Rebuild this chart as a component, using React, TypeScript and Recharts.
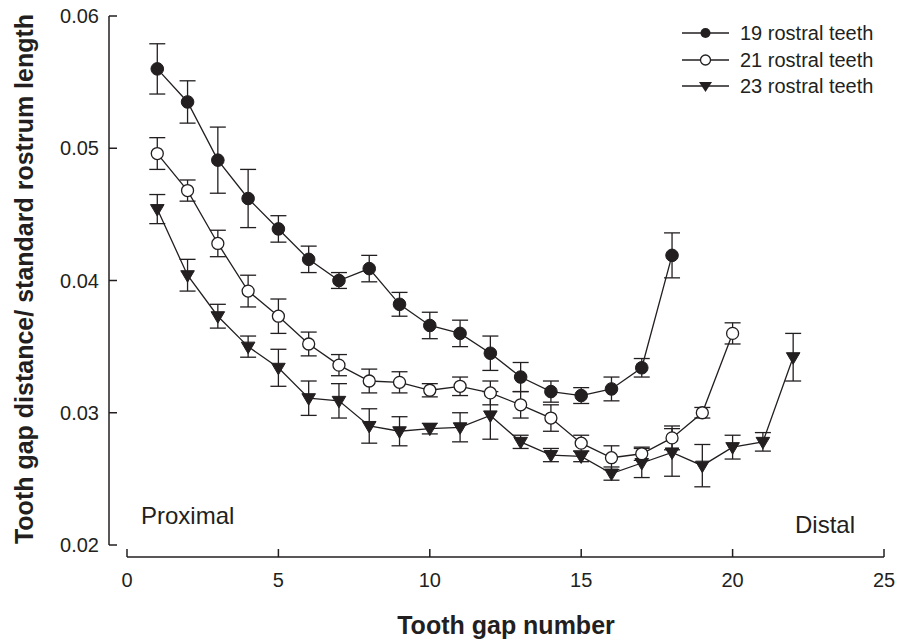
import React from 'react';
import { LineChart, Line, XAxis, YAxis, ErrorBar, Customized } from 'recharts';

const INK = '#231f20';
const FONT = '"Liberation Sans", Arial, Helvetica, sans-serif';

// ---- data ----
const xTicks = [0, 5, 10, 15, 20, 25];
const yTicks = [0.02, 0.03, 0.04, 0.05, 0.06];
const seriesNames = ['19 rostral teeth', '21 rostral teeth', '23 rostral teeth'];

const gaps19 = [1, 2, 3, 4, 5, 6, 7, 8, 9, 10, 11, 12, 13, 14, 15, 16, 17, 18];
const mean19 = [0.0560, 0.0535, 0.0491, 0.0462, 0.0439, 0.0416, 0.0400, 0.0409, 0.0382, 0.0366, 0.0360, 0.0345, 0.0327, 0.0316, 0.0313, 0.0318, 0.0334, 0.0419];
const err19 = [0.0019, 0.0016, 0.0025, 0.0022, 0.0010, 0.0010, 0.0006, 0.0010, 0.0009, 0.0010, 0.0010, 0.0013, 0.0011, 0.0008, 0.0006, 0.0009, 0.0007, 0.0017];

const gaps21 = [1, 2, 3, 4, 5, 6, 7, 8, 9, 10, 11, 12, 13, 14, 15, 16, 17, 18, 19, 20];
const mean21 = [0.0496, 0.0468, 0.0428, 0.0392, 0.0373, 0.0352, 0.0336, 0.0324, 0.0323, 0.0317, 0.0320, 0.0315, 0.0306, 0.0296, 0.0277, 0.0266, 0.0269, 0.0281, 0.0300, 0.0360];
const err21 = [0.0012, 0.0008, 0.0010, 0.0012, 0.0013, 0.0009, 0.0008, 0.0009, 0.0008, 0.0005, 0.0007, 0.0009, 0.0010, 0.0010, 0.0006, 0.0009, 0.0005, 0.0009, 0.0004, 0.0008];

const gaps23 = [1, 2, 3, 4, 5, 6, 7, 8, 9, 10, 11, 12, 13, 14, 15, 16, 17, 18, 19, 20, 21, 22];
const mean23 = [0.0454, 0.0404, 0.0373, 0.0350, 0.0334, 0.0311, 0.0309, 0.0290, 0.0286, 0.0288, 0.0289, 0.0298, 0.0278, 0.0268, 0.0267, 0.0254, 0.0262, 0.0270, 0.0260, 0.0274, 0.0278, 0.0342];
const err23 = [0.0011, 0.0012, 0.0009, 0.0008, 0.0014, 0.0013, 0.0013, 0.0013, 0.0011, 0.0004, 0.0011, 0.0018, 0.0005, 0.0005, 0.0004, 0.0005, 0.0011, 0.0018, 0.0016, 0.0009, 0.0007, 0.0018];

const toRows = (gaps: number[], means: number[], errs: number[]) =>
  gaps.map((g, i) => ({ gap: g, value: means[i], err: errs[i] }));

const rows19 = toRows(gaps19, mean19, err19);
const rows21 = toRows(gaps21, mean21, err21);
const rows23 = toRows(gaps23, mean23, err23);

// ---- markers ----
const FilledDot = (p: any) =>
  p.cx == null ? null : <circle key={`f${p.index}`} cx={p.cx} cy={p.cy} r={6.3} fill={INK} stroke={INK} strokeWidth={1} />;
const OpenDot = (p: any) =>
  p.cx == null ? null : <circle key={`o${p.index}`} cx={p.cx} cy={p.cy} r={6} fill="#fff" stroke={INK} strokeWidth={1.3} />;
const TriDot = (p: any) =>
  p.cx == null ? null : (
    <path
      key={`t${p.index}`}
      d={`M${p.cx - 6.8},${p.cy - 4.5} L${p.cx + 6.8},${p.cy - 4.5} L${p.cx},${p.cy + 7} Z`}
      fill={INK}
      stroke={INK}
      strokeWidth={1}
    />
  );

// ---- axes ticks ----
const XTick = (props: any) => {
  const { x, y, payload } = props;
  return (
    <g>
      <line x1={x} x2={x} y1={y + 4} y2={y + 12} stroke={INK} strokeWidth={1.5} />
      <text x={x} y={y + 42} textAnchor="middle" fontSize={20} fill={INK} fontFamily={FONT}>
        {payload.value}
      </text>
    </g>
  );
};

const YTick = (props: any) => {
  const { x, y, payload } = props;
  return (
    <g>
      <line x1={x - 18} x2={x - 10} y1={y} y2={y} stroke={INK} strokeWidth={1.5} />
      <text x={x - 28} y={y} dy="0.35em" textAnchor="end" fontSize={20} fill={INK} fontFamily={FONT}>
        {Number(payload.value).toFixed(2)}
      </text>
    </g>
  );
};

// ---- titles, annotations, legend ----
const Decorations = () => {
  const legendRows = [33, 60, 86];
  const markers = [
    (cy: number) => <circle cx={705.5} cy={cy} r={5} fill={INK} />,
    (cy: number) => <circle cx={705.5} cy={cy} r={5} fill="#fff" stroke={INK} strokeWidth={1.3} />,
    (cy: number) => <path d={`M${699},${cy - 4} L${712},${cy - 4} L${705.5},${cy + 6} Z`} fill={INK} />,
  ];
  return (
    <g fontFamily={FONT} fill={INK}>
      <text x={506} y={634} textAnchor="middle" fontSize={25} fontWeight="bold">
        Tooth gap number
      </text>
      <text transform="translate(33,279) rotate(-90)" textAnchor="middle" fontSize={25} fontWeight="bold">
        Tooth gap distance/ standard rostrum length
      </text>
      <text x={141} y={524} fontSize={24}>Proximal</text>
      <text x={795} y={533} fontSize={24}>Distal</text>
      {seriesNames.map((name, i) => (
        <g key={name}>
          <line x1={682} x2={729} y1={legendRows[i]} y2={legendRows[i]} stroke={INK} strokeWidth={1.3} />
          {markers[i](legendRows[i])}
          <text x={740} y={legendRows[i]} dy="0.35em" fontSize={20}>
            {name}
          </text>
        </g>
      ))}
    </g>
  );
};

export default function App() {
  return (
    <div style={{ position: 'absolute', left: 0, top: 0, background: '#fff' }}>
      <LineChart width={899} height={640} margin={{ top: 16, right: 15, bottom: 65, left: 67 }}>
        <XAxis
          type="number"
          dataKey="gap"
          domain={[0, 25]}
          ticks={xTicks}
          interval={0}
          height={30}
          tickSize={0}
          tickMargin={0}
          tickLine={false}
          axisLine={{ stroke: INK, strokeWidth: 1.5, transform: 'translate(0,12)' }}
          tick={<XTick />}
        />
        <YAxis
          type="number"
          domain={[0.02, 0.06]}
          ticks={yTicks}
          interval={0}
          width={60}
          tickSize={0}
          tickMargin={0}
          tickLine={false}
          axisLine={{ stroke: INK, strokeWidth: 1.5, transform: 'translate(-18,0)' }}
          tick={<YTick />}
        />
        <Line
          data={rows23}
          dataKey="value"
          name={seriesNames[2]}
          stroke={INK}
          strokeWidth={1.3}
          dot={TriDot}
          activeDot={false}
          isAnimationActive={false}
        >
          <ErrorBar dataKey="err" width={8} stroke={INK} strokeWidth={1.3} direction="y" />
        </Line>
        <Line
          data={rows21}
          dataKey="value"
          name={seriesNames[1]}
          stroke={INK}
          strokeWidth={1.3}
          dot={OpenDot}
          activeDot={false}
          isAnimationActive={false}
        >
          <ErrorBar dataKey="err" width={8} stroke={INK} strokeWidth={1.3} direction="y" />
        </Line>
        <Line
          data={rows19}
          dataKey="value"
          name={seriesNames[0]}
          stroke={INK}
          strokeWidth={1.3}
          dot={FilledDot}
          activeDot={false}
          isAnimationActive={false}
        >
          <ErrorBar dataKey="err" width={8} stroke={INK} strokeWidth={1.3} direction="y" />
        </Line>
        <Customized component={Decorations} />
      </LineChart>
    </div>
  );
}
